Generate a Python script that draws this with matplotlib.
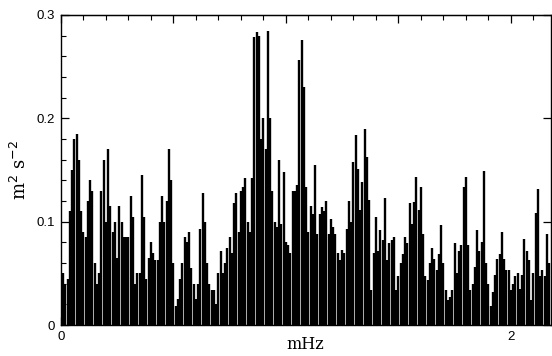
import numpy as np
import matplotlib
matplotlib.use("Agg")
import matplotlib.pyplot as plt
from matplotlib.ticker import MultipleLocator, NullFormatter

# Spectral power (m^2 s^-2), one value per 0.01 mHz bin
power = [
    0.05, 0.05, 0.04, 0.045, 0.11, 0.15, 0.18, 0.185, 0.16, 0.11,
    0.09, 0.085, 0.12, 0.14, 0.13, 0.06, 0.04, 0.05, 0.13, 0.16,
    0.10, 0.17, 0.115, 0.09, 0.10, 0.065, 0.115, 0.10, 0.085, 0.085,
    0.085, 0.125, 0.105, 0.04, 0.05, 0.05, 0.145, 0.105, 0.045, 0.065,
    0.08, 0.07, 0.063, 0.063,
    0.10, 0.125, 0.10, 0.12, 0.17, 0.14, 0.06, 0.018, 0.025, 0.045,
    0.06, 0.085, 0.08, 0.09, 0.055, 0.04, 0.025, 0.04, 0.093, 0.128,
    0.10, 0.06, 0.04, 0.034, 0.034, 0.02, 0.05, 0.072, 0.05, 0.06,
    0.075, 0.085, 0.07, 0.118, 0.128, 0.09, 0.13, 0.134, 0.142, 0.10,
    0.09, 0.142,
    0.279, 0.284, 0.28, 0.18, 0.20, 0.17, 0.285, 0.20, 0.13, 0.10,
    0.095, 0.16, 0.098, 0.148, 0.08, 0.077, 0.07, 0.13, 0.13, 0.135,
    0.256, 0.276, 0.23, 0.134, 0.09, 0.115, 0.107, 0.155, 0.088, 0.107,
    0.114, 0.11, 0.12, 0.088, 0.103, 0.095, 0.088, 0.07, 0.063, 0.073,
    0.07, 0.093, 0.12, 0.10, 0.158,
    0.184, 0.151, 0.111, 0.138, 0.19, 0.163, 0.121, 0.034, 0.07, 0.105,
    0.072, 0.092, 0.082, 0.123, 0.063, 0.079, 0.082, 0.085, 0.034, 0.047,
    0.06, 0.069, 0.085, 0.079, 0.118, 0.098, 0.119, 0.143, 0.111, 0.134,
    0.088, 0.047, 0.044, 0.06, 0.075, 0.064, 0.053, 0.069, 0.097, 0.06,
    0.034, 0.024, 0.027, 0.034,
    0.079, 0.05, 0.072, 0.077, 0.134, 0.143, 0.077, 0.034, 0.04, 0.056,
    0.092, 0.072, 0.08, 0.149, 0.06, 0.04, 0.018, 0.032, 0.048, 0.064,
    0.069, 0.09, 0.064, 0.053, 0.053, 0.034, 0.04, 0.047, 0.05, 0.035,
    0.048, 0.083, 0.072, 0.063, 0.024, 0.05, 0.108, 0.132, 0.047, 0.053,
    0.047, 0.088, 0.06,
]
freq_step = 0.01  # mHz
freq = np.arange(len(power)) * freq_step

x_ticks = [0, 1, 2]
x_ticklabels = ["0", "", "2"]
y_ticks = [0, 0.1, 0.2, 0.3]
y_ticklabels = ["0", "0.1", "0.2", "0.3"]

W, H = 552, 356
fig = plt.figure(figsize=(W / 100, H / 100), dpi=100)
ax = fig.add_axes([60.5 / W, 1 - 325 / H, (551 - 60.5) / W, 310 / H])

ax.vlines(freq, 0, power, color="black", linewidth=1.7)

ax.set_xlim(-0.002, 2.178)
ax.set_ylim(0, 0.3)

tick_font = dict(family="Liberation Sans", size=9.5)
ax.set_xticks(x_ticks)
ax.set_xticklabels(x_ticklabels, **tick_font)
ax.set_yticks(y_ticks)
ax.set_yticklabels(y_ticklabels, **tick_font)
ax.xaxis.set_minor_locator(MultipleLocator(0.2))
ax.yaxis.set_minor_locator(MultipleLocator(0.02))
ax.tick_params(axis="both", which="major", direction="in", length=6, width=0.9,
               top=False, right=True, pad=4)
ax.tick_params(axis="both", which="minor", direction="in", length=3.5, width=0.8,
               top=False, right=False)

top = ax.secondary_xaxis("top")
top.xaxis.set_major_locator(MultipleLocator(0.5))
top.xaxis.set_minor_locator(MultipleLocator(0.1))
top.xaxis.set_major_formatter(NullFormatter())
top.tick_params(which="major", direction="in", length=6, width=0.9)
top.tick_params(which="minor", direction="in", length=3.5, width=0.8)

for s in ax.spines.values():
    s.set_linewidth(1.0)

ax.text(1.0, -0.011, "mHz", transform=ax.transData, ha="left", va="top",
        family="DejaVu Serif", fontsize=11.5)
fig.text(20 / W, 1 - 170 / H, "m$^2$ s$^{-2}$", rotation=90, ha="center", va="center",
         family="DejaVu Serif", fontsize=13)

fig.savefig("out.png", dpi=100)
